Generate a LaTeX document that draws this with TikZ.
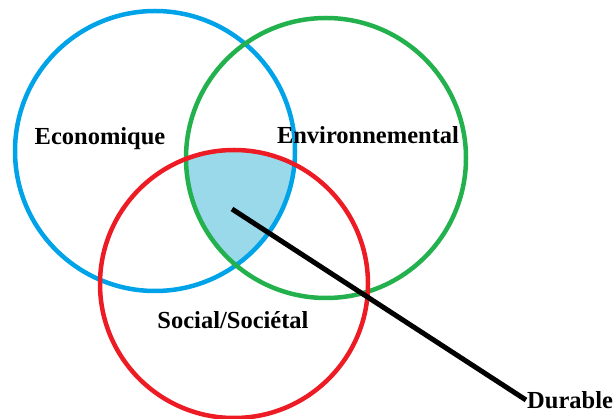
\documentclass[tikz,border=0pt]{standalone}
\usepackage{fontspec}
\setmainfont{Liberation Serif}
\usepackage{xcolor}
\usetikzlibrary{calc}

\definecolor{ecoblue}{RGB}{0,162,232}
\definecolor{envgreen}{RGB}{34,177,76}
\definecolor{socred}{RGB}{237,28,36}
\definecolor{durfill}{RGB}{153,217,234}

\tikzset{
	ring/.style={line width=4.5pt},
	lbl/.style={font=\fontsize{24.5}{28}\selectfont\bfseries, inner sep=1pt}
}

\begin{document}
\begin{tikzpicture}[x=1pt, y=-1pt]
					\useasboundingbox (0,0) rectangle (616,419);

					\coordinate (eco) at (155,151);
					\coordinate (env) at (326,158);
					\coordinate (soc) at (234,284);

					\begin{scope}
						\clip (eco) circle (140);
						\clip (env) circle (140);
						\fill[durfill] (soc) circle (134);
					\end{scope}

					\draw[ring, ecoblue] (eco) circle (140);
					\draw[ring, envgreen] (env) circle (140);
					\draw[ring, socred] (soc) circle (134);

					\draw
						(100,139) node[lbl] (ecolbl) {Economique}
						(368,135) node[lbl] (envlbl) {Environnemental}
						(233,320) node[lbl] (soclbl) {Social/Sociétal}
						(526,400) node[lbl, anchor=west] (durable) {Durable};

					\coordinate (centre) at (232,209);
					\draw[line width=5pt] (centre) -- (durable.west);
				\end{tikzpicture}
\end{document}
